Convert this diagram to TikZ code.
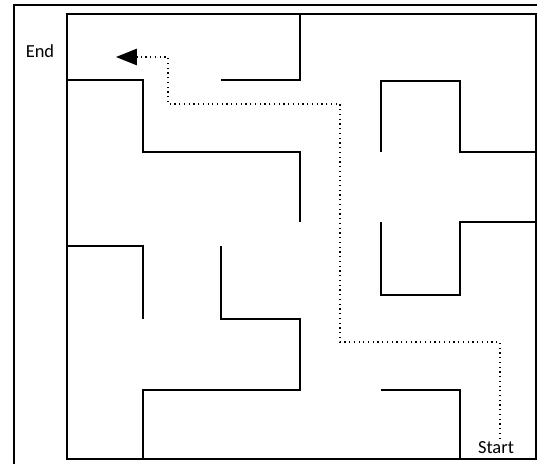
\documentclass[tikz,border=0pt]{standalone}
\usepackage{fontspec}
\setmainfont{Carlito}
\usepackage{tikz}
\usetikzlibrary{arrows.meta, calc}

\begin{document}
\begin{tikzpicture}[x=0.02cm, y=-0.02cm,
    frame/.style={line width=0.6pt},
    mazebox/.style={line width=0.8pt},
    wall/.style={line width=1.2pt, line join=miter},
    label/.style={font=\fontsize{10.5}{12}\selectfont, inner sep=1pt, anchor=base},
    route/.style={dotted, line width=0.7pt, -{Triangle[length=4.2mm, width=3.3mm]}}]

    \useasboundingbox (0,0) rectangle (537,464);

    % outer frame
    \draw [frame] (14,464) -- (14,5) -- (537,5);

    % maze box
    \draw [mazebox] (67,14) rectangle (536,459);

    % walls
    \draw [wall] (67,80) -- (143,80) -- (143,152) -- (300,152) -- (300,222);
    \draw [wall] (300,14) -- (300,80) -- (221,80);
    \draw [wall] (381,152) -- (381,81) -- (460,81) -- (460,152) -- (536,152);
    \draw [wall] (381,222) -- (381,295) -- (460,295) -- (460,222) -- (536,222);
    \draw [wall] (67,246) -- (143,246) -- (143,319);
    \draw [wall] (221,246) -- (221,319) -- (300,319) -- (300,390) -- (143,390) -- (143,459);
    \draw [wall] (381,390) -- (460,390) -- (460,459);

    % labels
    \node (end) [label] at (40,57) {End};
    \node (start) [label] at (496,453) {Start};

    % route
    \coordinate (t1) at (500,342);
    \coordinate (t2) at (340,342);
    \coordinate (t3) at (340,104);
    \coordinate (t4) at (168,104);
    \coordinate (t5) at (168,57);
    \coordinate (goal) at (116,57);
    \draw [route] (start.north -| t1) -- (t1) -- (t2) -- (t3) -- (t4) -- (t5) -- (goal);

\end{tikzpicture}
\end{document}
